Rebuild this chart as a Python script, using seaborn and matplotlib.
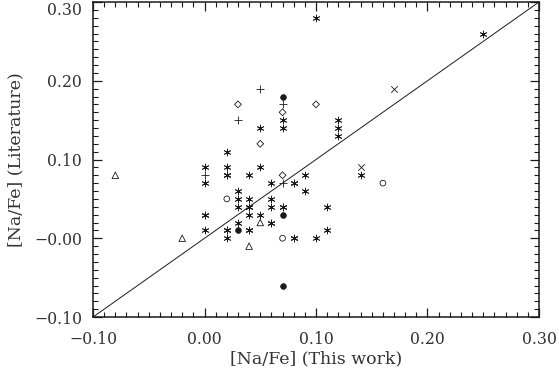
import matplotlib
matplotlib.use("Agg")
import matplotlib.pyplot as plt
from matplotlib.ticker import MultipleLocator
import seaborn as sns

# [Na/Fe] from this work vs. literature values, one pair of lists per symbol
star_x = [0.00, 0.02, 0.05, 0.02, 0.05, 0.07, 0.07, 0.10, 0.25, 0.12, 0.12, 0.12,
          0.14, 0.09, 0.09, 0.11, 0.11, 0.10, 0.00, 0.00, 0.00, 0.02, 0.02, 0.02,
          0.03, 0.03, 0.03, 0.03, 0.04, 0.04, 0.04, 0.04, 0.04, 0.05, 0.06, 0.06,
          0.06, 0.06, 0.07, 0.08, 0.08,
          0.00, 0.02, 0.02, 0.04, 0.04, 0.06, 0.07, 0.08, 0.08]
star_y = [0.09, 0.09, 0.09, 0.11, 0.14, 0.15, 0.14, 0.28, 0.26, 0.15, 0.14, 0.13,
          0.08, 0.08, 0.06, 0.04, 0.01, 0.00, 0.07, 0.03, 0.01, 0.08, 0.01, 0.00,
          0.06, 0.05, 0.04, 0.02, 0.08, 0.05, 0.04, 0.03, 0.01, 0.03, 0.07, 0.05,
          0.04, 0.02, 0.04, 0.07, 0.00,
          0.03, 0.08, 0.01, 0.04, 0.01, 0.02, 0.04, 0.07, 0.00]

plus_x = [0.03, 0.05, 0.07, 0.00, 0.07]
plus_y = [0.15, 0.19, 0.17, 0.08, 0.07]

diamond_x = [0.03, 0.05, 0.07, 0.10, 0.07]
diamond_y = [0.17, 0.12, 0.16, 0.17, 0.08]

triangle_x = [-0.08, -0.02, 0.04, 0.05]
triangle_y = [0.08, 0.00, -0.01, 0.02]

circle_x = [0.02, 0.07, 0.16]
circle_y = [0.05, 0.00, 0.07]

dot_x = [0.07, 0.03, 0.07, 0.07]
dot_y = [0.18, 0.01, 0.03, -0.06]

cross_x = [0.17, 0.14]
cross_y = [0.19, 0.09]

x_ticks = [-0.10, 0.00, 0.10, 0.20, 0.30]
x_tick_labels = ["\u22120.10", "0.00", "0.10", "0.20", "0.30"]
y_ticks = [-0.10, 0.00, 0.10, 0.20, 0.30]
y_tick_labels = ["\u22120.10", "\u22120.00", "0.10", "0.20", "0.30"]

sns.set_theme(style="ticks")
plt.rcParams["font.family"] = ["DejaVu Serif"]

fig, ax = plt.subplots(figsize=(5.59, 3.73), dpi=100)
fig.subplots_adjust(left=0.1664, right=0.9642, bottom=0.1501, top=0.9946)

# one-to-one line
sns.lineplot(x=[-0.1, 0.3], y=[-0.1, 0.3], color="k", linewidth=0.7, ax=ax)

line_kw = dict(color="k", linewidth=0.6, ax=ax)
sns.scatterplot(x=star_x, y=star_y, marker=(6, 2, 0), s=24, edgecolor="k", **line_kw)
sns.scatterplot(x=plus_x, y=plus_y, marker="+", s=26, **line_kw)
sns.scatterplot(x=cross_x, y=cross_y, marker="x", s=22, **line_kw)

open_kw = dict(facecolor="none", edgecolor="k", linewidth=0.6, ax=ax)
sns.scatterplot(x=diamond_x, y=diamond_y, marker="D", s=12, **open_kw)
sns.scatterplot(x=triangle_x, y=triangle_y, marker="^", s=22, **open_kw)
sns.scatterplot(x=circle_x, y=circle_y, marker="o", s=17, **open_kw)
sns.scatterplot(x=dot_x, y=dot_y, marker="o", s=17, color="k", edgecolor="k",
                linewidth=0.5, ax=ax)

ax.set_xlim(-0.1, 0.3)
ax.set_ylim(-0.1, 0.3)
ax.set_xticks(x_ticks)
ax.set_xticklabels(x_tick_labels)
ax.set_yticks(y_ticks)
ax.set_yticklabels(y_tick_labels)
ax.get_yticklabels()[-1].set_va("top")
ax.xaxis.set_minor_locator(MultipleLocator(0.01))
ax.yaxis.set_minor_locator(MultipleLocator(0.01))
ax.tick_params(which="both", direction="in", top=True, right=True, color="k",
               labelsize=11.3, labelcolor="#333333")
ax.tick_params(which="major", length=6.5, width=0.9)
ax.tick_params(axis="x", which="major", pad=10)
ax.tick_params(axis="y", which="major", pad=8)
ax.tick_params(which="minor", length=3.6, width=0.8)
for sp in ax.spines.values():
    sp.set_linewidth(1.1)
    sp.set_color("k")

ax.set_xlabel("[Na/Fe] (This work)", fontsize=12.5, color="#333333", labelpad=2)
ax.set_ylabel("[Na/Fe] (Literature)", fontsize=12.5, color="#333333", labelpad=7)

fig.savefig("out.png", dpi=100)
